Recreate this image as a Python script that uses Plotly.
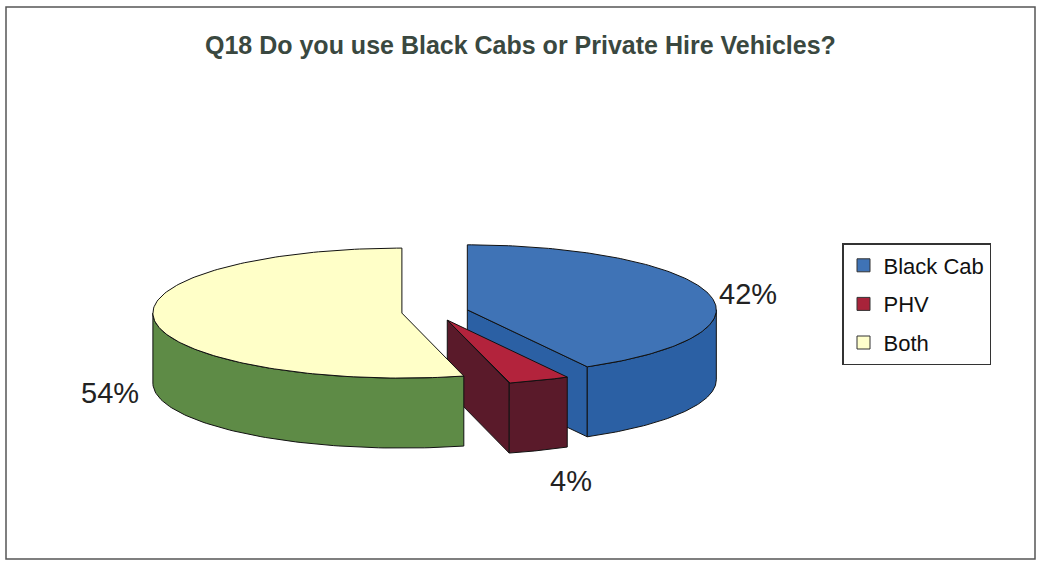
import numpy as np
import plotly.graph_objects as go

# ---- data ----
categories = ["Black Cab", "PHV", "Both"]
values = [42, 4, 54]
title_text = "Q18 Do you use Black Cabs or Private Hire Vehicles?"

# ---- style ----
top_colors = ["#3f73b6", "#b3233c", "#ffffc8"]
side_colors = ["#2b60a4", "#5a1a2a", "#5e8b46"]
legend_colors = ["#3f73b6", "#a8233a", "#ffffcc"]

W, H = 1043, 566
CX, CY = 435, 312      # pie centre (px)
RX, RY = 249, 65       # ellipse radii
DEPTH = 70             # pie thickness
EXPLODE = 0.134        # fraction of radius
label_pos = [(748, 294), (571, 481), (110, 393)]

fig = go.Figure()

total = float(sum(values))
cum = np.concatenate([[0], np.cumsum(values)]) / total


def pt(cx, cy, th, dz=0.0):
    t = np.radians(th)
    return cx + RX * np.cos(t), cy - RY * np.sin(t) + dz


def add_poly(xs, ys, color):
    fig.add_trace(go.Scatter(
        x=list(xs) + [xs[0]], y=list(ys) + [ys[0]], mode="lines",
        fill="toself", fillcolor=color,
        line=dict(color="#111111", width=1), hoverinfo="skip",
        showlegend=False))


for i, cat in enumerate(categories):
    hi = 90 - 360 * cum[i]
    lo = 90 - 360 * cum[i + 1]
    mid = (hi + lo) / 2
    m = np.radians(mid)
    cx = CX + EXPLODE * RX * np.cos(m)
    cy = CY - EXPLODE * RY * np.sin(m)

    # radial faces
    for ang, sgn in ((lo, 1), (hi, -1)):
        if sgn * np.cos(np.radians(ang)) > 1e-6:
            x1, y1 = pt(cx, cy, ang)
            x2, y2 = pt(cx, cy, ang, DEPTH)
            add_poly([cx, x1, x2, cx], [cy, y1, y2, cy + DEPTH], side_colors[i])

    # outer curved face (front half only)
    for k in (-1, 0, 1):
        a = max(lo, -180 + 360 * k)
        b = min(hi, 0 + 360 * k)
        if b - a > 1e-6:
            th = np.linspace(a, b, 80)
            tx, ty = pt(cx, cy, th)
            bx, by = pt(cx, cy, th[::-1], DEPTH)
            add_poly(np.concatenate([tx, bx]), np.concatenate([ty, by]),
                     side_colors[i])

    # top face
    th = np.linspace(lo, hi, 160)
    tx, ty = pt(cx, cy, th)
    add_poly(np.concatenate([[cx], tx]), np.concatenate([[cy], ty]),
             top_colors[i])

    fig.add_annotation(x=label_pos[i][0], y=label_pos[i][1],
                       text=f"{values[i] / total * 100:.0f}%",
                       showarrow=False,
                       font=dict(family="Liberation Sans, Arial", size=29,
                                 color="#222222"))

# legend entries
for i, cat in enumerate(categories):
    fig.add_trace(go.Scatter(
        x=[None], y=[None], mode="markers", name=cat, legendgroup=cat,
        marker=dict(symbol="square", size=13, color=legend_colors[i],
                    line=dict(color="#333333", width=1))))

fig.add_annotation(x=520, y=45, text=f"<b>{title_text}</b>", showarrow=False,
                   font=dict(family="Liberation Sans, Arial", size=25,
                             color="#3a4840"))

fig.add_shape(type="rect", x0=6, y0=7, x1=1035, y1=559,
              line=dict(color="#555555", width=1.5))

fig.update_layout(
    width=W, height=H,
    margin=dict(l=0, r=0, t=0, b=0),
    paper_bgcolor="white", plot_bgcolor="white",
    xaxis=dict(range=[0, W], visible=False, fixedrange=True),
    yaxis=dict(range=[H, 0], visible=False, fixedrange=True),
    showlegend=True,
    legend=dict(x=842 / W, y=1 - 243 / H, xanchor="left", yanchor="top",
                bordercolor="#333333", borderwidth=1.5, bgcolor="white",
                font=dict(family="Liberation Sans, Arial", size=22,
                          color="#111111"),
                tracegroupgap=7, itemwidth=30),
)

fig.write_html("out.html")
